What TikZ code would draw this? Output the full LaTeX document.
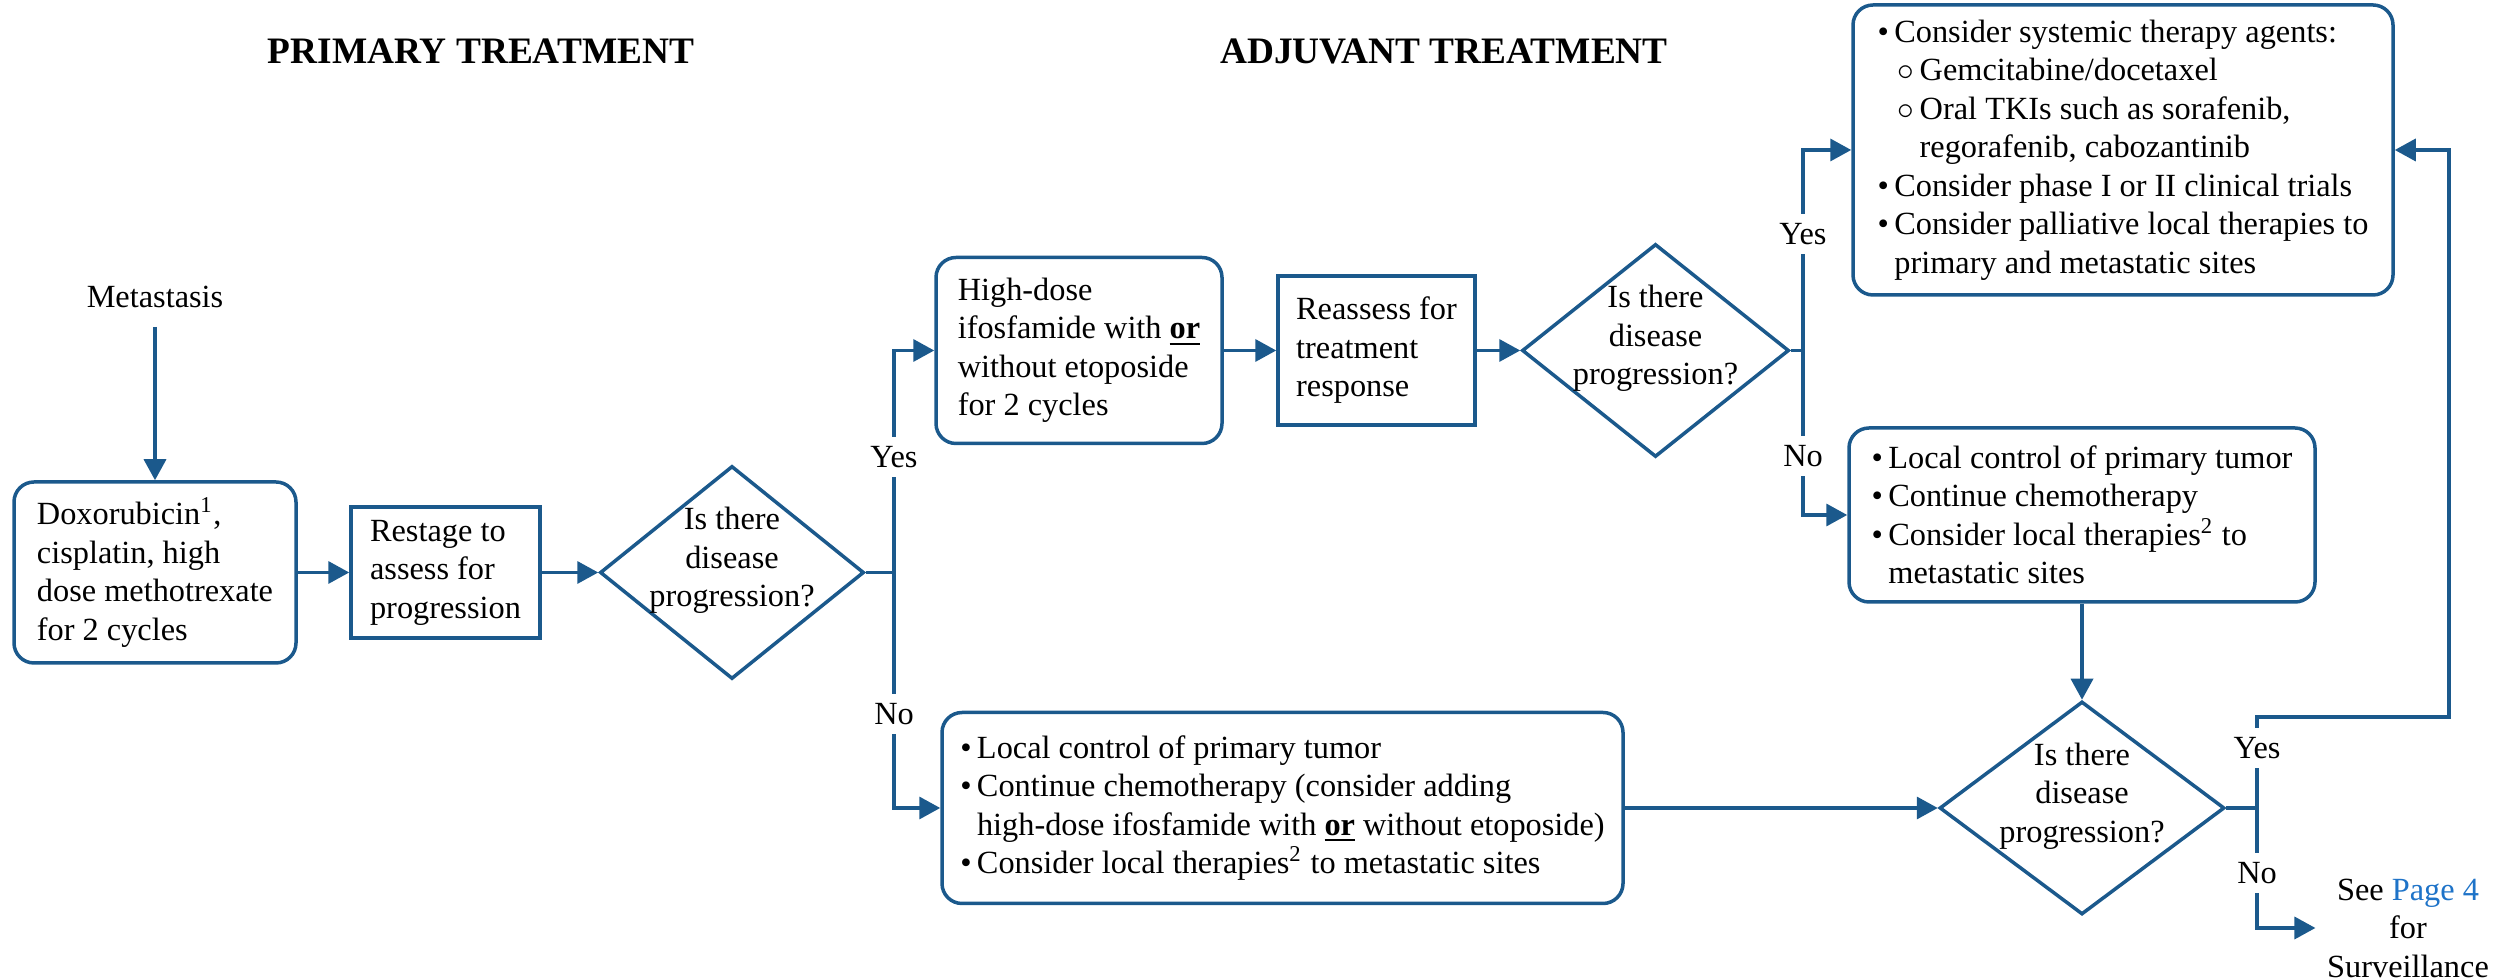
\documentclass[tikz,border=0pt]{standalone}
\usepackage{fontspec}
\setmainfont{Liberation Serif}
\usepackage{tikz}
\usetikzlibrary{shapes.geometric, arrows.meta}

\definecolor{flowblue}{RGB}{27,89,140}
\definecolor{linkblue}{RGB}{30,115,200}

\begin{document}
\begin{tikzpicture}[
        x=30pt, y=30pt,
        font=\fontsize{9.7}{11.55}\selectfont,
        flow/.style={draw=flowblue, line width=1.05pt},
        arrow/.style={flow, -{Triangle[length=6.3pt, width=6.6pt]}},
        box/.style={rectangle, draw=flowblue, line width=1.05pt, rounded corners=6pt, align=left, inner sep=2pt},
        plain_box/.style={rectangle, draw=flowblue, line width=1.05pt, align=left, inner sep=2pt},
        question/.style={diamond, draw=flowblue, line width=1.05pt, inner sep=0pt, minimum height=63.9pt},
        question_text/.style={align=center, yshift=3.6pt},
        branch_label/.style={fill=white, inner xsep=1pt, inner ysep=2.8pt},
        heading/.style={font=\fontsize{11.2}{13}\selectfont\bfseries}
    ]
        \useasboundingbox (0,0) rectangle (25.16,9.80);

        % Column headings
        \node[heading] (primary_head) at (4.81,9.29) {PRIMARY TREATMENT};
        \node[heading] (adjuvant_head) at (14.44,9.29) {ADJUVANT TREATMENT};

        % Primary treatment
        \node[inner sep=5.5pt] (meta) at (1.55,6.83) {Metastasis};
        \node[box, minimum width=84.6pt, minimum height=54.3pt] (doxo_box) at (1.55,4.075)
            {Doxorubicin\textsuperscript{1},\\cisplatin, high\\dose methotrexate\\for 2 cycles};
        \node[plain_box, minimum width=56.7pt, minimum height=39.3pt] (restage_box) at (4.455,4.075)
            {Restage to\\assess for\\progression};
        \node[question, minimum width=79.2pt,
            label={[question_text]center:{Is there\\disease\\progression?}}] (q1) at (7.32,4.075) {};
        \coordinate (split1) at (8.94,4.075);

        % Adjuvant treatment, upper row
        \node[box, minimum width=85.8pt, minimum height=55.8pt] (hdose_box) at (10.79,6.295)
            {High-dose\\ifosfamide with \underline{\textbf{or}}\\without etoposide\\for 2 cycles};
        \node[plain_box, minimum width=59.1pt, minimum height=44.7pt] (reass_box) at (13.765,6.295)
            {Reassess for\\treatment\\response};
        \node[question, minimum width=80.1pt,
            label={[question_text]center:{Is there\\disease\\progression?}}] (q2) at (16.555,6.295) {};
        \coordinate (split2) at (18.03,6.295);

        \node[box, minimum width=162pt, minimum height=87pt] (sys_box) at (21.23,8.30)
            {\textbullet\,Consider systemic therapy agents:\\
             \hspace{0.62em}$\circ$\,Gemcitabine/docetaxel\\
             \hspace{0.62em}$\circ$\,Oral TKIs such as sorafenib,\\
             \hspace{1.3em}regorafenib, cabozantinib\\
             \textbullet\,Consider phase I or II clinical trials\\
             \textbullet\,Consider palliative local therapies to\\
             \phantom{\textbullet\,}primary and metastatic sites};
        \node[box, minimum width=139.8pt, minimum height=52.2pt] (local_box) at (20.82,4.65)
            {\textbullet\,Local control of primary tumor\\
             \textbullet\,Continue chemotherapy\\
             \textbullet\,Consider local therapies\textsuperscript{2} to\\
             \phantom{\textbullet\,}metastatic sites};

        % Adjuvant treatment, lower row
        \node[box, minimum width=204.3pt, minimum height=57.3pt] (low_box) at (12.825,1.72)
            {\textbullet\,Local control of primary tumor\\
             \textbullet\,Continue chemotherapy (consider adding\\
             \phantom{\textbullet\,}high-dose ifosfamide with \underline{\textbf{or}} without etoposide)\\
             \textbullet\,Consider local therapies\textsuperscript{2} to metastatic sites};
        \node[question, minimum width=85.5pt,
            label={[question_text]center:{Is there\\disease\\progression?}}] (q3) at (20.82,1.72) {};
        \coordinate (split3) at (22.57,1.72);
        \coordinate (loop_a) at (22.57,2.63);
        \coordinate (loop_b) at (24.49,2.63);
        \node[align=center] (see_text) at (24.08,0.52) {See \textcolor{linkblue}{Page 4}\\for\\Surveillance};

        % Connectors
        \draw[arrow] (meta) -- (doxo_box);
        \draw[arrow] (doxo_box) -- (restage_box);
        \draw[arrow] (restage_box) -- (q1);
        \draw[flow] (q1) -- (split1);
        \draw[arrow] (split1) |- (hdose_box) node[branch_label, pos=0.26] {Yes};
        \draw[arrow] (split1) |- (low_box) node[branch_label, pos=0.3] {No};

        \draw[arrow] (hdose_box) -- (reass_box);
        \draw[arrow] (reass_box) -- (q2);
        \draw[flow] (q2) -- (split2);
        \draw[arrow] (split2) |- (sys_box) node[branch_label, pos=0.29] {Yes};
        \draw[arrow] (split2) |- (local_box) node[branch_label, pos=0.32] {No};

        \draw[arrow] (local_box) -- (q3);
        \draw[arrow] (low_box) -- (q3);
        \draw[flow] (q3) -- (split3);
        \draw[arrow] (split3) -- (loop_a) node[branch_label, pos=0.66] {Yes} -- (loop_b) |- (sys_box);
        \draw[arrow] (split3) |- (see_text) node[branch_label, pos=0.27] {No};

    \end{tikzpicture}
\end{document}
